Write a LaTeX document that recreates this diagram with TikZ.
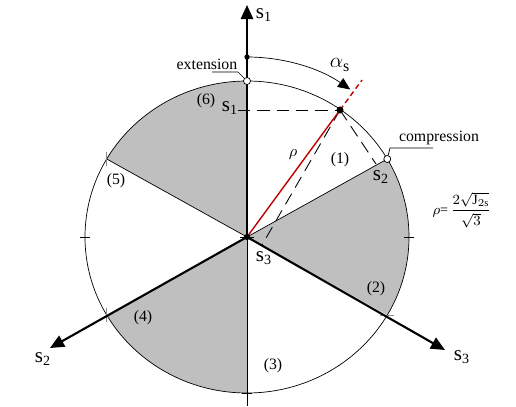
\documentclass[tikz,border=0pt]{standalone}
\usepackage{fontspec}
\setmainfont{Liberation Serif}
\usetikzlibrary{arrows.meta}

\begin{document}
\begin{tikzpicture}[
        x=0.02cm, y=0.02cm,
        every node/.style={font=\fontsize{9}{10}\selectfont, inner sep=1pt},
        axis/.style={line width=1.2pt, -{Triangle[width=7pt, length=8pt]}},
        axlabel/.style={font=\fontsize{12}{13}\selectfont},
        sector/.style={fill=black!25},
        proj/.style={dash pattern=on 7pt off 4pt, line width=0.5pt},
        redline/.style={draw=red!75!black, line width=0.8pt},
        tickmark/.style={line width=0.4pt},
        blackdot/.style={circle, fill=black, inner sep=0pt, minimum size=4pt},
        opendot/.style={circle, draw, fill=white, inner sep=0pt, minimum size=4pt}
    ]

    \useasboundingbox (-247,-169) rectangle (269,237);

    % Centre and points on the yield curve
    \coordinate (o) at (0,0);
    \foreach \a in {0,30,...,330}
        \coordinate (e\a) at ({162*cos(\a)},{156*sin(\a)});

    % Shaded sectors
    \foreach \a in {90,210,330}
        \fill[sector] (o) -- (e\a) arc[start angle=\a, end angle=\a+60, x radius=162, y radius=156] -- cycle;

    % Curve and sector borders
    \draw[line width=0.4pt] (o) ellipse [x radius=162, y radius=156];
    \coordinate (bot) at (0,-169);
    \draw[line width=0.4pt] (o) -- (e30);
    \draw[line width=0.4pt] (o) -- (e150);
    \draw[line width=0.4pt] (o) -- (bot);

    % Ticks
    \foreach \a in {0,180,270}
        \draw[tickmark] (e\a) ++(-5,0) -- ++(10,0);
    \draw[tickmark, black!45] (e150) ++(0,-7) -- ++(0,14);
    \draw[tickmark, black!45] (e210) ++(0,-7) -- ++(0,14);
    \draw[tickmark, black!45] (e330) ++(-7,0) -- ++(14,0);
    \draw[tickmark] (-7,0) -- (7,0);

    % Axes
    \coordinate (s1tip) at (0,232);
    \coordinate (s2tip) at (-197,-111);
    \coordinate (s3tip) at (198,-113);
    \draw[axis] (o) -- (s1tip);
    \draw[axis] (o) -- (s2tip);
    \draw[axis] (o) -- (s3tip);
    \node[axlabel] (s1lbl) at (17,222) {s\textsubscript{1}};
    \node[axlabel] (s2lbl) at (-204,-122) {s\textsubscript{2}};
    \node[axlabel] (s3lbl) at (215,-120) {s\textsubscript{3}};

    % Stress point and projections
    \coordinate (P) at (93,127);
    \coordinate (Pext) at (115,157);
    \coordinate (p1) at (-9,127);
    \coordinate (p2) at (129,73);
    \coordinate (p3) at (15,-8);
    \draw[proj] (p1) -- (P);
    \draw[proj] (P) -- (p2);
    \draw[proj] (P) -- (p3);
    \draw[redline] (o) -- (P);
    \draw[redline, dash pattern=on 3pt off 2pt] (P) -- (Pext);
    \node[blackdot] (Pdot) at (P) {};
    \node[blackdot, minimum size=3.5pt] (odot) at (o) {};
    \node[axlabel] (s1p) at (-17,129) {s\textsubscript{1}};
    \node[axlabel] (s2p) at (134,60) {s\textsubscript{2}};
    \node[axlabel] (s3p) at (17,-21) {s\textsubscript{3}};
    \node (rho) at (46,82) {$\rho$};

    % Lode angle
    \coordinate (a0) at (0,180);
    \draw[line width=0.4pt, -{Triangle[width=6pt, length=7pt]}] (a0) arc[start angle=90, end angle=55, radius=180];
    \node[blackdot, minimum size=3pt] (a0dot) at (a0) {};
    \node[font=\fontsize{13}{14}\selectfont] (alpha) at (93,172) {$\alpha_{\mathrm{s}}$};

    % Extension and compression meridians
    \node[opendot] (extdot) at (e90) {};
    \node[opendot] (compdot) at (e30) {};
    \node (ext) at (-40,173) {extension};
    \coordinate (extA) at (-35,165);
    \coordinate (extB) at (-9,165);
    \draw[line width=0.4pt] (extA) -- (extB) -- (extdot);
    \node (comp) at (192,99) {compression};
    \coordinate (compA) at (143,89);
    \coordinate (compB) at (186,89);
    \draw[line width=0.4pt] (compdot) -- (compA) -- (compB);

    % Radius
    \node[font=\fontsize{8}{9}\selectfont] (radius) at (215,27)
        {$\rho$=\,$\displaystyle\frac{2\sqrt{\mathrm{J}_{2\mathrm{s}}}}{\sqrt{3}}$};

    % Sector numbers
    \node (r1) at (93,77) {(1)};
    \node (r2) at (129,-52) {(2)};
    \node (r3) at (26,-129) {(3)};
    \node (r4) at (-104,-81) {(4)};
    \node (r5) at (-131,56) {(5)};
    \node (r6) at (-41,136) {(6)};

\end{tikzpicture}
\end{document}
